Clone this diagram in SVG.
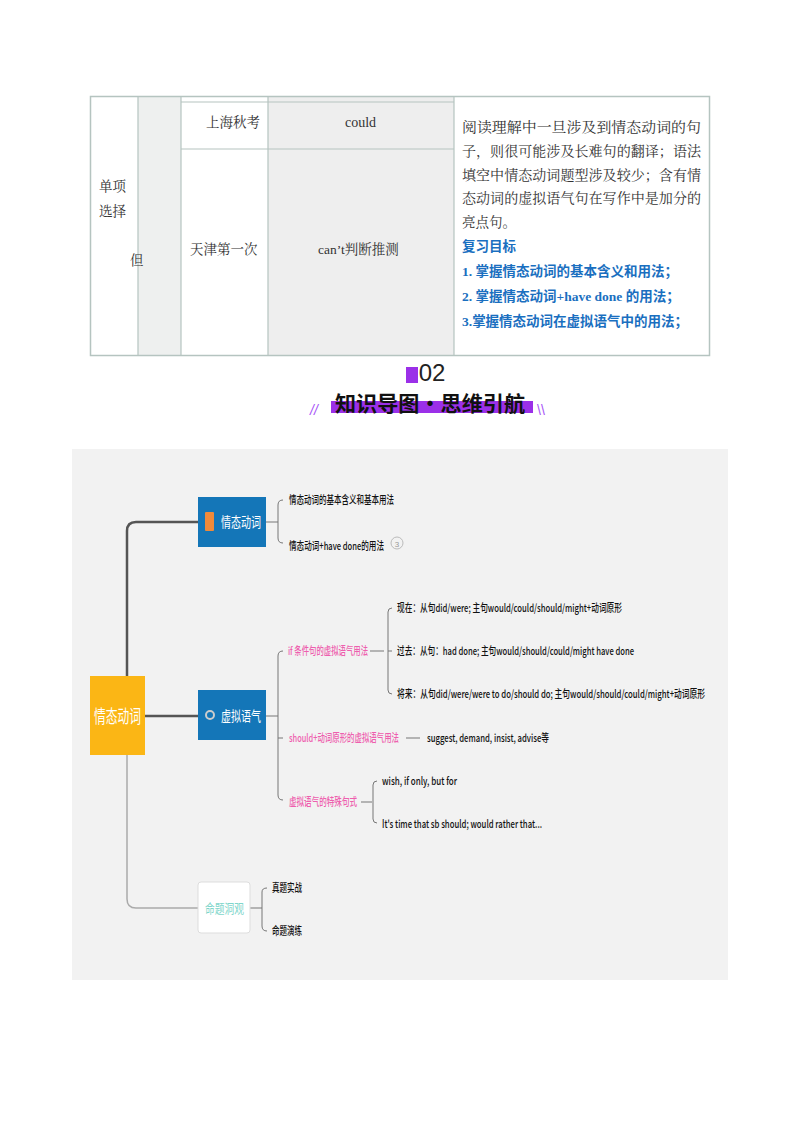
<svg xmlns="http://www.w3.org/2000/svg" width="800" height="1132" viewBox="0 0 800 1132">
<style>
.t{font-family:"Liberation Serif","Noto Serif CJK SC","Noto Sans CJK SC",serif;font-size:13.5px;fill:#333}
.b{font-family:"Liberation Serif","Noto Sans CJK SC",serif;font-size:13.5px;fill:#1a6fc0;font-weight:bold}
.m{font-family:"Noto Sans CJK SC",sans-serif;font-size:11px;fill:#111;font-weight:500}
.p{font-family:"Noto Sans CJK SC",sans-serif;font-size:11px;fill:#ee5fae;font-weight:500}
.c{fill:none;stroke:#777;stroke-width:1}
.k{fill:none;stroke:#555;stroke-width:2.5}
.g{fill:none;stroke:#aaa;stroke-width:1.5}
</style>
<rect width="800" height="1132" fill="#fff"/>
<g id="table">
<rect x="138" y="96" width="43" height="259" fill="#eef0ef"/>
<rect x="268" y="96" width="186" height="259" fill="#eeeeee"/>
<rect x="90.5" y="96.5" width="619" height="259" fill="none" stroke="#b5c4c0" stroke-width="1.5"/>
<g stroke="#b5c4c0" stroke-width="1.2">
<line x1="138" y1="96" x2="138" y2="355"/><line x1="181" y1="96" x2="181" y2="355"/>
<line x1="268" y1="96" x2="268" y2="355"/><line x1="454" y1="96" x2="454" y2="355"/>
<line x1="181" y1="102" x2="454" y2="102"/><line x1="181" y1="149" x2="454" y2="149"/>
</g>
<text class="t" x="99" y="191">单项</text><text class="t" x="99" y="216">选择</text>
<text class="t" x="130" y="265">但</text>
<text class="t" x="206" y="127">上海秋考</text>
<text class="t" x="345" y="127" style="font-size:14px">could</text>
<text class="t" x="190" y="254">天津第一次</text>
<text class="t" x="318" y="254">can’t判断推测</text>
<text class="t" x="462" y="132" textLength="239" lengthAdjust="spacingAndGlyphs">阅读理解中一旦涉及到情态动词的句</text>
<text class="t" x="462" y="156" textLength="239" lengthAdjust="spacingAndGlyphs">子，则很可能涉及长难句的翻译；语法</text>
<text class="t" x="462" y="180" textLength="239" lengthAdjust="spacingAndGlyphs">填空中情态动词题型涉及较少；含有情</text>
<text class="t" x="462" y="203" textLength="239" lengthAdjust="spacingAndGlyphs">态动词的虚拟语气句在写作中是加分的</text>
<text class="t" x="462" y="227">亮点句。</text>
<text class="b" x="462" y="251">复习目标</text>
<text class="b" x="462" y="276">1.  掌握情态动词的基本含义和用法；</text>
<text class="b" x="462" y="301">2.  掌握情态动词+have  done 的用法；</text>
<text class="b" x="462" y="326">3.掌握情态动词在虚拟语气中的用法；</text>
</g>
<g id="heading">
<rect x="406" y="367" width="12" height="16" fill="#9b30e8"/>
<text x="432" y="381" text-anchor="middle" style="font-family:'Liberation Sans',sans-serif;font-size:24px;fill:#222">02</text>
<rect x="331" y="401" width="202" height="12" fill="#9b30e8"/>
<text x="335" y="411" style="font-family:'Noto Sans CJK SC',sans-serif;font-size:21px;font-weight:bold;fill:#111" textLength="190" lengthAdjust="spacingAndGlyphs">知识导图•思维引航</text>
<text x="310" y="415" style="font-family:'Liberation Sans',sans-serif;font-size:14px;fill:#a855f7;font-style:italic">//</text>
<text x="537" y="415" style="font-family:'Liberation Sans',sans-serif;font-size:14px;fill:#a855f7">\\</text>
</g>
<rect x="72" y="449" width="656" height="531" fill="#f2f2f2"/>
<g id="connectors">
<path class="k" d="M127 676 V531 Q127 522 136 522 H198"/>
<path class="k" d="M145 716 H198"/>
<path class="g" d="M127 755 V899 Q127 908 136 908 H198"/>
<path class="c" d="M266 522 H278 M283 500 Q278 500 278 505 V538 Q278 543 283 543"/>
<path class="c" d="M266 716 H278 M283 651 Q278 651 278 656 V795 Q278 800 283 800 M278 738 H283"/>
<path class="c" d="M370 651 H384 M392 608 Q388 608 388 612 V690 Q388 694 392 694 M388 651 H392"/>
<path class="c" d="M406 738 H420"/>
<path class="c" d="M361 802 H372 M377 781 Q373 781 373 785 V819 Q373 823 377 823"/>
<path class="c" d="M250 908 H262 M267 888 Q262 888 262 892 V926 Q262 931 267 931"/>
</g>
<g id="root"><rect x="90" y="676" width="55" height="79" fill="#fbb615"/>
<text x="94" y="723" style="font-family:'Noto Sans CJK SC',sans-serif;font-size:18px;fill:#fff" textLength="47" lengthAdjust="spacingAndGlyphs">情态动词</text></g>
<g id="b1"><rect x="198" y="497" width="68" height="50" fill="#1476b8"/>
<rect x="205" y="512" width="9" height="19" rx="1" fill="#f08a3a"/>
<text x="221" y="527" style="font-family:'Noto Sans CJK SC',sans-serif;font-size:14px;fill:#fff" textLength="40" lengthAdjust="spacingAndGlyphs">情态动词</text></g>
<g id="b2"><rect x="198" y="690" width="68" height="50" fill="#1476b8"/>
<circle cx="210" cy="715" r="4" fill="none" stroke="#ccc" stroke-width="2"/>
<text x="221" y="721" style="font-family:'Noto Sans CJK SC',sans-serif;font-size:14px;fill:#fff" textLength="40" lengthAdjust="spacingAndGlyphs">虚拟语气</text></g>
<g id="b3"><rect x="198" y="882" width="52" height="51" rx="3" fill="#fff" stroke="#ddd"/>
<text x="205" y="913" style="font-family:'Noto Sans CJK SC',sans-serif;font-size:13px;fill:#7fd6cb" textLength="39" lengthAdjust="spacingAndGlyphs">命题洞观</text></g>
<g id="leaves">
<text class="m" x="289" y="504" textLength="105" lengthAdjust="spacingAndGlyphs">情态动词的基本含义和基本用法</text>
<text class="m" x="289" y="550" textLength="95" lengthAdjust="spacingAndGlyphs">情态动词+have done的用法</text>
<circle cx="397" cy="543" r="6" fill="none" stroke="#bbb"/><text x="397" y="547" text-anchor="middle" style="font-family:'Liberation Sans',sans-serif;font-size:8px;fill:#999">3</text>
<text class="p" x="288" y="655" textLength="80" lengthAdjust="spacingAndGlyphs">if 条件句的虚拟语气用法</text>
<text class="m" x="397" y="612" textLength="225" lengthAdjust="spacingAndGlyphs">现在：从句did/were; 主句would/could/should/might+动词原形</text>
<text class="m" x="397" y="655" textLength="237" lengthAdjust="spacingAndGlyphs">过去：从句：had done; 主句would/should/could/might have done</text>
<text class="m" x="397" y="698" textLength="308" lengthAdjust="spacingAndGlyphs">将来：从句did/were/were to do/should do; 主句would/should/could/might+动词原形</text>
<text class="p" x="289" y="742" textLength="110" lengthAdjust="spacingAndGlyphs">should+动词原形的虚拟语气用法</text>
<text class="m" x="427" y="742" textLength="122" lengthAdjust="spacingAndGlyphs">suggest, demand, insist, advise等</text>
<text class="p" x="289" y="806" textLength="68" lengthAdjust="spacingAndGlyphs">虚拟语气的特殊句式</text>
<text class="m" x="382" y="785" textLength="75" lengthAdjust="spacingAndGlyphs">wish, if only, but for</text>
<text class="m" x="382" y="828" textLength="160" lengthAdjust="spacingAndGlyphs">It's time that sb should; would rather that...</text>
<text class="m" x="272" y="892" textLength="30" lengthAdjust="spacingAndGlyphs">真题实战</text>
<text class="m" x="272" y="935" textLength="30" lengthAdjust="spacingAndGlyphs">命题演练</text>
</g>
</svg>
